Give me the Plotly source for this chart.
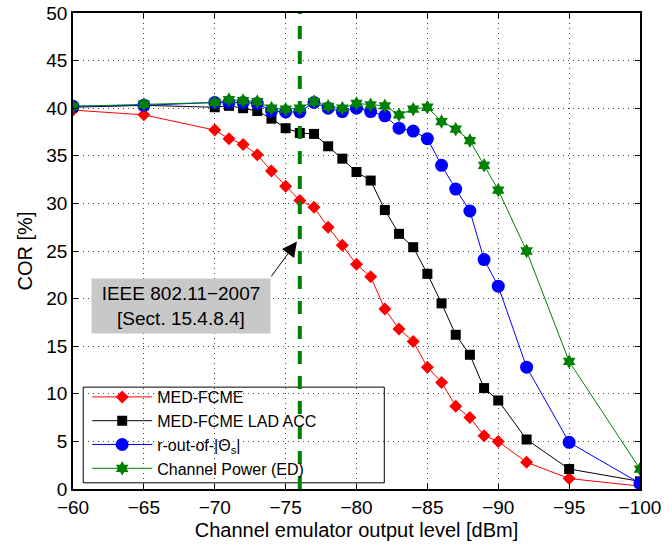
"""COR versus channel emulator output level for four detectors."""

import plotly.graph_objects as go

# output level [dBm]
levels = [-60, -65, -70, -71, -72, -73, -74, -75, -76, -77, -78, -79, -80,
          -81, -82, -83, -84, -85, -86, -87, -88, -89, -90, -92, -95, -100]

# COR [%]
med_fcme = [39.8, 39.3, 37.7, 36.8, 36.2, 35.1, 33.4, 31.8, 30.3, 29.6, 27.5, 25.6, 23.6,
            22.3, 18.9, 16.8, 15.5, 12.8, 11.2, 8.7, 7.5, 5.6, 5.0, 2.8, 1.1, 0.3]
med_fcme_lad = [40.1, 40.3, 40.1, 40.25, 40.0, 39.7, 38.9, 37.9, 37.4, 37.3, 36.0, 34.7, 33.3,
                32.4, 29.3, 26.8, 25.4, 22.6, 19.5, 16.2, 14.1, 10.6, 9.3, 5.2, 2.1, 0.8]
r_out_of = [40.2, 40.3, 40.6, 40.6, 40.6, 40.5, 39.7, 39.6, 39.6, 40.6, 40.0, 39.65, 40.0,
            39.65, 39.2, 37.9, 37.6, 36.8, 34.0, 31.5, 29.2, 24.1, 21.3, 12.8, 4.9, 0.6]
channel_power = [40.2, 40.4, 40.6, 40.9, 40.8, 40.7, 40.0, 39.9, 40.0, 40.7, 40.2, 40.0, 40.5,
                 40.35, 40.25, 39.3, 39.9, 40.1, 38.6, 37.8, 36.6, 34.0, 31.4, 25.0, 13.4, 2.1]

series_names = ["MED-FCME", "MED-FCME LAD ACC", "r-out-of-|Θ<sub>s</sub>|", "Channel Power (ED)"]

ieee_level = -76  # IEEE 802.11-2007 sensitivity requirement [dBm]
x_ticks = [-60, -65, -70, -75, -80, -85, -90, -95, -100]
y_ticks = [0, 5, 10, 15, 20, 25, 30, 35, 40, 45, 50]

FONT = "Liberation Sans, Arial, sans-serif"

styles = [
    dict(color="#FF0000", symbol="diamond", size=10),
    dict(color="#000000", symbol="square", size=10),
    dict(color="#0000FF", symbol="circle", size=13),
    dict(color="#008000", symbol="hexagram", size=11),
]

fig = go.Figure()
for name, values, st in zip(series_names, [med_fcme, med_fcme_lad, r_out_of, channel_power], styles):
    fig.add_trace(
        go.Scatter(
            x=levels,
            y=values,
            name=name,
            mode="lines+markers",
            line=dict(color=st["color"], width=1),
            marker=dict(symbol=st["symbol"], size=st["size"], color=st["color"],
                        line=dict(width=0)),
        )
    )

# white legend panel with frame (legend itself is transparent so the dashed line shows through)
fig.add_shape(type="rect", xref="paper", yref="paper", x0=0.018, x1=0.549, y0=0.013, y1=0.214,
              fillcolor="white", line=dict(color="black", width=1), layer="between")
fig.add_shape(type="line", xref="x", yref="paper", x0=ieee_level, x1=ieee_level, y0=0, y1=1,
              line=dict(color="#008000", width=4, dash="13px,12px"), layer="above")

fig.add_annotation(x=-75.8, y=26.0, ax=-73.91, ay=22.18, axref="x", ayref="y", xref="x", yref="y",
                   text="", showarrow=True, arrowhead=2, arrowsize=3, arrowwidth=1,
                   arrowcolor="black", standoff=0, startstandoff=0)
fig.add_annotation(x=-67.64, y=19.27, xref="x", yref="y", showarrow=False,
                   text="IEEE 802.11−2007<br>[Sect. 15.4.8.4]",
                   font=dict(family=FONT, size=19, color="black"),
                   bgcolor="#C8C8C8", width=174, height=50, borderpad=2,
                   xanchor="center", yanchor="middle")

axis_common = dict(
    showline=True, linecolor="black", linewidth=1.5, mirror="ticks",
    ticks="inside", ticklen=5, tickcolor="black", tickwidth=1,
    showgrid=True, gridcolor="#444444", gridwidth=1, griddash="1px,4px",
    zeroline=False, automargin=False, tickfont=dict(family=FONT, size=19, color="black"),
)

fig.update_layout(
    width=672, height=547,
    paper_bgcolor="white", plot_bgcolor="white",
    margin=dict(l=73, r=32, t=13, b=58),
    xaxis=dict(range=[-60, -100], tickvals=x_ticks, ticktext=[f"−{abs(v)}" for v in x_ticks],
               title=dict(text="Channel emulator output level [dBm]", standoff=6,
                          font=dict(family=FONT, size=20, color="black")),
               **axis_common),
    yaxis=dict(range=[0, 50], tickvals=y_ticks,
               title=dict(text="COR [%]", standoff=8, font=dict(family=FONT, size=20, color="black")),
               **axis_common),
    legend=dict(x=0.025, y=0.229, xanchor="left", yanchor="top", bgcolor="rgba(0,0,0,0)",
                borderwidth=0, font=dict(family=FONT, size=16, color="black"),
                itemwidth=60, tracegroupgap=0),
    showlegend=True,
)

fig.write_html("out.html", config={"displayModeBar": False},
               post_script="document.body.style.margin='0';")
